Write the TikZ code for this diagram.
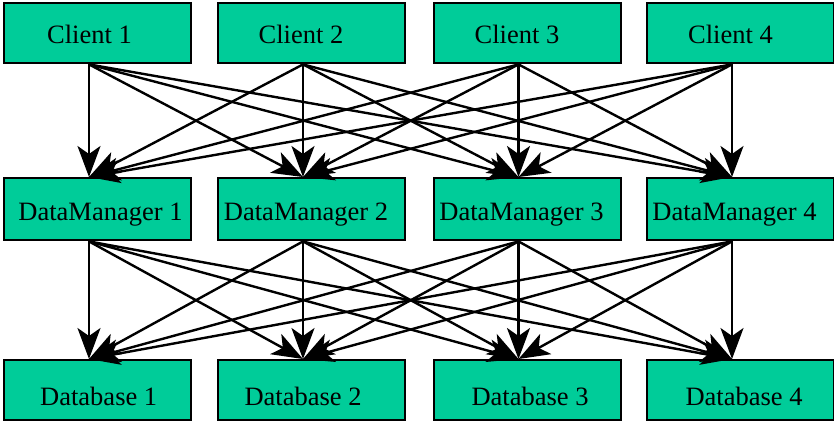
\documentclass[tikz,border=0pt]{standalone}
\usepackage{fontspec}
\setmainfont{Liberation Serif}
\usetikzlibrary{arrows.meta,calc}
\definecolor{boxgreen}{RGB}{0,204,153}
\begin{document}
\begin{tikzpicture}[x=1pt,y=-1pt,
  box/.style={draw=black,line width=2.4pt,fill=boxgreen,minimum width=187pt,
    minimum height=60pt,inner sep=0pt,anchor=north west},
  lbl/.style={anchor=base,inner sep=0pt,font=\fontsize{26.5}{30}\selectfont},
  link/.style={line width=2.4pt,-{Stealth[length=31pt,width=23pt,inset=8pt]}}]
\useasboundingbox (0,0) rectangle (834,421);

% three rows of four boxes
\foreach \i/\x in {1/3,2/217,3/432.5,4/646}{
  \node[box] (c\i) at (\x,2) {};
  \node[box,minimum height=62pt] (d\i) at (\x,177) {};
  \node[box] (b\i) at (\x,359) {};
  % connection ports on the box edges
  \coordinate (c\i-out) at ($(c\i.south west)+(86,0)$);
  \coordinate (d\i-in)  at ($(d\i.north west)+(86,0)$);
  \coordinate (d\i-out) at ($(d\i.south west)+(86,0)$);
  \coordinate (b\i-in)  at ($(b\i.north west)+(86,0)$);
}

% labels
\node[lbl] (c1t) at (89.5,43) {Client 1};
\node[lbl] (c2t) at (301,43) {Client 2};
\node[lbl] (c3t) at (517,43) {Client 3};
\node[lbl] (c4t) at (730.5,43) {Client 4};
\node[lbl] (d1t) at (100.5,220) {DataManager 1};
\node[lbl] (d2t) at (306,220) {DataManager 2};
\node[lbl] (d3t) at (521.5,220) {DataManager 3};
\node[lbl] (d4t) at (734.5,220) {DataManager 4};
\node[lbl] (b1t) at (98.7,405) {Database 1};
\node[lbl] (b2t) at (303,405) {Database 2};
\node[lbl] (b3t) at (530,405) {Database 3};
\node[lbl] (b4t) at (744,405) {Database 4};

% every client talks to every data manager, every manager to every database
\foreach \i in {1,...,4}{
  \foreach \j in {1,...,4}{
    \draw[link] (c\i-out) -- (d\j-in);
    \draw[link] (d\i-out) -- (b\j-in);
  }
}
\end{tikzpicture}
\end{document}
